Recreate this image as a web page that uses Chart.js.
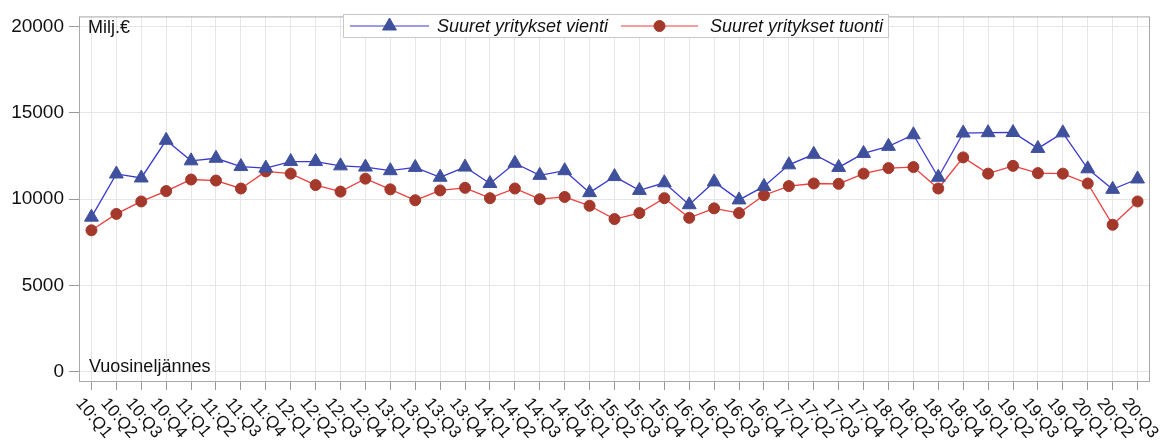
<!DOCTYPE html>
<html>
<head>
<meta charset="utf-8">
<script src="https://cdn.jsdelivr.net/npm/chart.js@4"></script>
<style>body{margin:0;background:#fff}</style>
</head>
<body>
<canvas id="c" width="1174" height="448"></canvas>
<script>
const quarters = [
  "10:Q1","10:Q2","10:Q3","10:Q4","11:Q1","11:Q2","11:Q3","11:Q4",
  "12:Q1","12:Q2","12:Q3","12:Q4","13:Q1","13:Q2","13:Q3","13:Q4",
  "14:Q1","14:Q2","14:Q3","14:Q4","15:Q1","15:Q2","15:Q3","15:Q4",
  "16:Q1","16:Q2","16:Q3","16:Q4","17:Q1","17:Q2","17:Q3","17:Q4",
  "18:Q1","18:Q2","18:Q3","18:Q4","19:Q1","19:Q2","19:Q3","19:Q4",
  "20:Q1","20:Q2","20:Q3"
];
const vienti = [
  8960, 11460, 11230, 13410, 12220, 12370, 11890, 11800,
  12180, 12180, 11930, 11860, 11650, 11840, 11270, 11860,
  10910, 12080, 11380, 11650, 10380, 11310, 10510, 10950,
  9680, 11000, 9960, 10740, 11990, 12600, 11840, 12650,
  13060, 13730, 11270, 13830, 13850, 13860, 12940, 13840,
  11760, 10570, 11170
];
const tuonti = [
  8200, 9150, 9870, 10470, 11140, 11080, 10620, 11610,
  11480, 10820, 10440, 11190, 10570, 9940, 10510, 10660,
  10060, 10620, 10000, 10130, 9620, 8850, 9200, 10060,
  8920, 9470, 9200, 10230, 10760, 10910, 10890, 11480,
  11800, 11860, 10620, 12420, 11480, 11930, 11510, 11480,
  10910, 8520, 9870
];
const yTicks = [0, 5000, 10000, 15000, 20000];

const FONT = "'Liberation Sans', Arial, sans-serif";

const decor = {
  id: "decor",
  afterDraw(chart) {
    const { ctx, chartArea: a, scales: { x } } = chart;
    const ds = chart.data.datasets;
    ctx.save();
    // frame
    ctx.strokeStyle = "#a8a8a8";
    ctx.lineWidth = 1;
    ctx.strokeRect(a.left + 0.5, a.top + 0.5, a.right - a.left - 1, a.bottom - a.top - 1);

    // inner texts
    ctx.fillStyle = "#111";
    ctx.font = "18px " + FONT;
    ctx.textBaseline = "alphabetic";
    ctx.textAlign = "left";
    ctx.fillText("Milj.€", 88, 33);
    ctx.fillText("Vuosineljännes", 89, 372);

    // rotated x labels (clockwise, not possible with built-in ticks)
    ctx.font = "17px " + FONT;
    ctx.textBaseline = "top";
    quarters.forEach((q, i) => {
      const px = x.getPixelForValue(i);
      ctx.save();
      ctx.translate(px - 6, a.bottom + 13);
      ctx.rotate(50 * Math.PI / 180);
      ctx.fillText(q, 0, 0);
      ctx.restore();
    });

    // legend
    ctx.fillStyle = "#fff";
    ctx.fillRect(343, 14, 545, 23);
    ctx.strokeStyle = "#c8c8c8";
    ctx.strokeRect(343.5, 14.5, 545, 23);
    const items = [
      { x0: 350, x1: 429, tx: 437, d: ds[0] },
      { x0: 621, x1: 698, tx: 710, d: ds[1] }
    ];
    const cy = 26;
    ctx.font = "italic 18px " + FONT;
    ctx.textBaseline = "middle";
    items.forEach(it => {
      const d = it.d;
      ctx.strokeStyle = d.borderColor;
      ctx.lineWidth = 1.2;
      ctx.beginPath();
      ctx.moveTo(it.x0, cy);
      ctx.lineTo(it.x1, cy);
      ctx.stroke();
      ctx.fillStyle = d.pointBackgroundColor;
      ctx.strokeStyle = d.pointBorderColor;
      ctx.lineWidth = 1;
      Chart.helpers.drawPoint(ctx, {
        pointStyle: d.pointStyle,
        radius: d.pointRadius,
        borderWidth: 1
      }, (it.x0 + it.x1) / 2, cy);
      ctx.fillStyle = "#111";
      ctx.fillText(d.label, it.tx, cy + 1);
    });
    ctx.restore();
  }
};

new Chart(document.getElementById("c"), {
  type: "line",
  data: {
    labels: quarters,
    datasets: [
      {
        label: "Suuret yritykset vienti",
        data: vienti,
        borderColor: "#3a3ad2",
        borderWidth: 1.3,
        pointStyle: "triangle",
        pointRadius: 8,
        pointBackgroundColor: "#3f519c",
        pointBorderColor: "#3f519c",
        pointBorderWidth: 1,
        tension: 0
      },
      {
        label: "Suuret yritykset tuonti",
        data: tuonti,
        borderColor: "#f03c3c",
        borderWidth: 1.3,
        pointStyle: "circle",
        pointRadius: 5.5,
        pointBackgroundColor: "#a3382b",
        pointBorderColor: "#a3382b",
        pointBorderWidth: 1,
        tension: 0
      }
    ]
  },
  options: {
    responsive: false,
    animation: false,
    layout: { padding: { top: 8, right: 24, left: 0, bottom: 0 } },
    plugins: {
      legend: { display: false },
      tooltip: { enabled: false }
    },
    scales: {
      x: {
        offset: true,
        border: { display: false },
        grid: { color: "#e6e6e6", tickColor: "#999", tickLength: 8, offset: false },
        ticks: { display: false, autoSkip: false },
        afterFit: s => { s.height = 66; }
      },
      y: {
        min: -583,
        max: 20583,
        border: { display: false },
        grid: { color: "#e6e6e6", tickColor: "#999", tickLength: 10 },
        ticks: {
          color: "#111",
          font: { size: 19, family: FONT },
          padding: 5,
          callback: v => String(v)
        },
        afterBuildTicks: s => { s.ticks = yTicks.map(v => ({ value: v })); },
        afterFit: s => { s.width = 79; }
      }
    }
  },
  plugins: [decor]
});
</script>
</body>
</html>
